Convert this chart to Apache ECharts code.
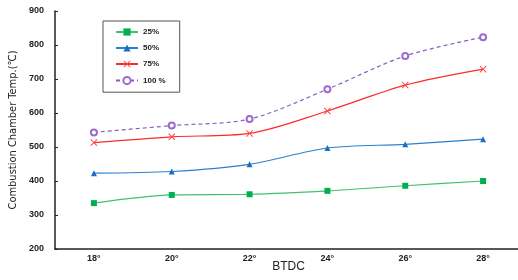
<!DOCTYPE html>
<html>
<head>
<meta charset="utf-8">
<script src="https://cdn.jsdelivr.net/npm/echarts@6/dist/echarts.min.js"></script>
<style>
  html, body { margin: 0; padding: 0; background: #fff; }
  #chart { width: 518px; height: 280px; }
</style>
</head>
<body>
<div id="chart"></div>
<script>
var categories = ['18°', '20°', '22°', '24°', '26°', '28°'];
var load25 = [335, 359, 361, 371, 386, 400];
var load50 = [423, 428, 449, 497, 508, 523];
var load75 = [513, 530, 540, 606, 682, 729];
var load100 = [543, 563, 582, 670, 768, 823];

var crossPath = 'path://M0,1L1,0L5,4L9,0L10,1L6,5L10,9L9,10L5,6L1,10L0,9L4,5Z';

var myChart = echarts.init(document.getElementById('chart'));
var option = {
	animation: false,
	textStyle: { fontFamily: 'Liberation Sans' },
	grid: { left: 55, right: -4, top: 11, bottom: 31, containLabel: false, outerBoundsMode: 'none' },
	legend: {
		orient: 'vertical',
		left: 103,
		top: 21,
		borderColor: '#555',
		borderWidth: 1,
		padding: [7, 14, 7, 12],
		itemGap: 8,
		itemWidth: 22,
		itemHeight: 9,
		textStyle: { fontSize: 8, fontWeight: 'bold', color: '#222' },
		data: ['25%', '50%', '75%', '100 %']
	},
	xAxis: {
		type: 'category',
		data: categories,
		boundaryGap: true,
		name: 'BTDC',
		nameLocation: 'middle',
		nameGap: 12,
		nameMoveOverlap: false,
		nameTextStyle: { fontSize: 12, color: '#222' },
		axisLine: { lineStyle: { color: '#222', width: 1.5 } },
		axisTick: { alignWithLabel: true, inside: true, length: 2, lineStyle: { color: '#222' } },
		axisLabel: { fontSize: 9, fontWeight: 'bold', color: '#222', margin: 5 }
	},
	yAxis: {
		type: 'value',
		min: 200,
		max: 900,
		interval: 100,
		name: 'Combustion Chamber Temp.(℃)',
		nameLocation: 'middle',
		nameGap: 36,
		nameMoveOverlap: false,
		nameTextStyle: { fontSize: 11, color: '#222', fontFamily: 'DejaVu Sans Condensed', fontWeight: 'normal' },
		splitLine: { show: false },
		axisLine: { show: true, lineStyle: { color: '#222', width: 1.5 } },
		axisTick: { show: true, inside: true, length: 3, lineStyle: { color: '#222' } },
		axisLabel: { fontSize: 9, fontWeight: 'bold', color: '#222', margin: 11 }
	},
	series: [
		{
			name: '25%', type: 'line', smooth: 0.3, data: load25,
			symbol: 'rect', symbolSize: 6,
			itemStyle: { color: '#00b050' },
			lineStyle: { color: '#40c070', width: 1.2 }
		},
		{
			name: '50%', type: 'line', smooth: 0.3, data: load50,
			symbol: 'triangle', symbolSize: 6,
			itemStyle: { color: '#1a6fc4' },
			lineStyle: { color: '#2a80d0', width: 1.2 }
		},
		{
			name: '75%', type: 'line', smooth: 0.3, data: load75,
			symbol: crossPath, symbolSize: 7,
			itemStyle: { color: '#ff4040' },
			lineStyle: { color: '#ff2a2a', width: 1.2 }
		},
		{
			name: '100 %', type: 'line', smooth: 0.3, data: load100,
			symbol: 'emptyCircle', symbolSize: 6,
			itemStyle: { color: '#9a6ccc', borderWidth: 1 },
			lineStyle: { color: '#8a5cc4', width: 1.2, type: [4, 3] }
		}
	]
};
myChart.setOption(option);
</script>
</body>
</html>
